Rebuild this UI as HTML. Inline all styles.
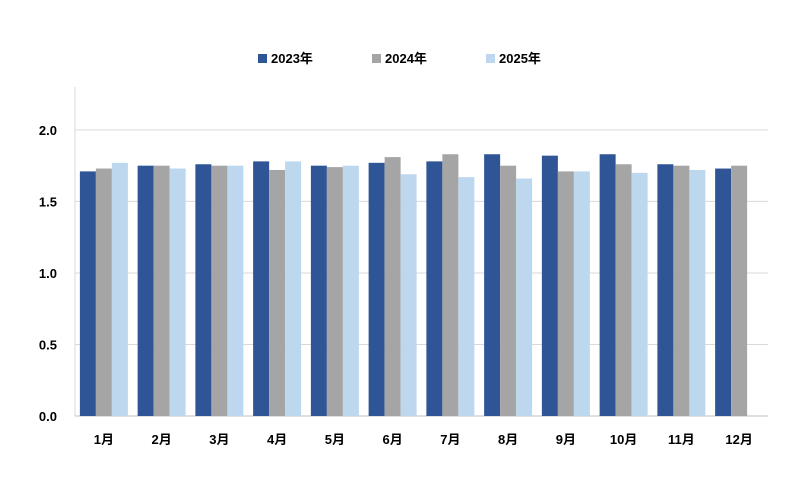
<!DOCTYPE html>
<html><head><meta charset="utf-8"><style>
body{margin:0;width:800px;height:480px;background:#fff;overflow:hidden}
text{font-family:"Liberation Sans","Noto Sans CJK JP",sans-serif;font-weight:bold;fill:#000}
</style></head><body>
<svg id="chart" width="800" height="480" xmlns="http://www.w3.org/2000/svg"></svg>
<script>
const categories=["1月","2月","3月","4月","5月","6月","7月","8月","9月","10月","11月","12月"];
const seriesNames=["2023年","2024年","2025年"];
const s2023=[1.71,1.75,1.76,1.78,1.75,1.77,1.78,1.83,1.82,1.83,1.76,1.73];
const s2024=[1.73,1.75,1.75,1.72,1.74,1.81,1.83,1.75,1.71,1.76,1.75,1.75];
const s2025=[1.77,1.73,1.75,1.78,1.75,1.69,1.67,1.66,1.71,1.70,1.72,null];
const yTicks=[0,0.5,1.0,1.5,2.0];
const yTickLabels=["0.0","0.5","1.0","1.5","2.0"];
const colors=["#2f5597","#a5a5a5","#bdd7ee"];
const NS="http://www.w3.org/2000/svg";
const svg=document.getElementById('chart');
const x0=75,x1=768,yBase=416,yMax=2.3,yTopPx=87;
const y=v=>yBase-(v/yMax)*(yBase-yTopPx);
const gw=(x1-x0)/categories.length;
function mk(t,a){const e=document.createElementNS(NS,t);for(const k in a)e.setAttribute(k,a[k]);svg.appendChild(e);return e;}
yTicks.forEach((t,i)=>{
 if(t>0){const g=mk('line',{x1:x0,x2:x1,y1:y(t),y2:y(t),stroke:'#d9d9d9','stroke-width':1});
 
 }
 const l=mk('text',{x:57,y:y(t)+5,'text-anchor':'end','font-size':13});
 l.textContent=yTickLabels[i];
 
 
});
const ax=mk('line',{x1:x0,x2:x0,y1:yTopPx,y2:yBase,stroke:'#d9d9d9'});


const xa=mk('line',{x1:x0,x2:x1,y1:yBase,y2:yBase,stroke:'#bfbfbf'});


const series=[s2023,s2024,s2025];
const bw=16;
categories.forEach((c,i)=>{
 const gx=x0+i*gw+gw/2;
 series.forEach((s,j)=>{
  if(s[i]==null)return;
  const r=mk('rect',{x:gx-1.5*bw+j*bw,y:y(s[i]),width:bw,height:yBase-y(s[i]),fill:colors[j]});
  
  
 });
 const t=mk('text',{x:gx,y:444,'text-anchor':'middle','font-size':13});
 t.textContent=c;
 
 
});
const lx=[258,372,486];
seriesNames.forEach((n,j)=>{
 const r=mk('rect',{x:lx[j],y:54,width:9,height:9,fill:colors[j]});
 
 
 const t=mk('text',{x:lx[j]+13,y:63,'font-size':13});
 t.textContent=n;
 
 
});
</script>
</body></html>
